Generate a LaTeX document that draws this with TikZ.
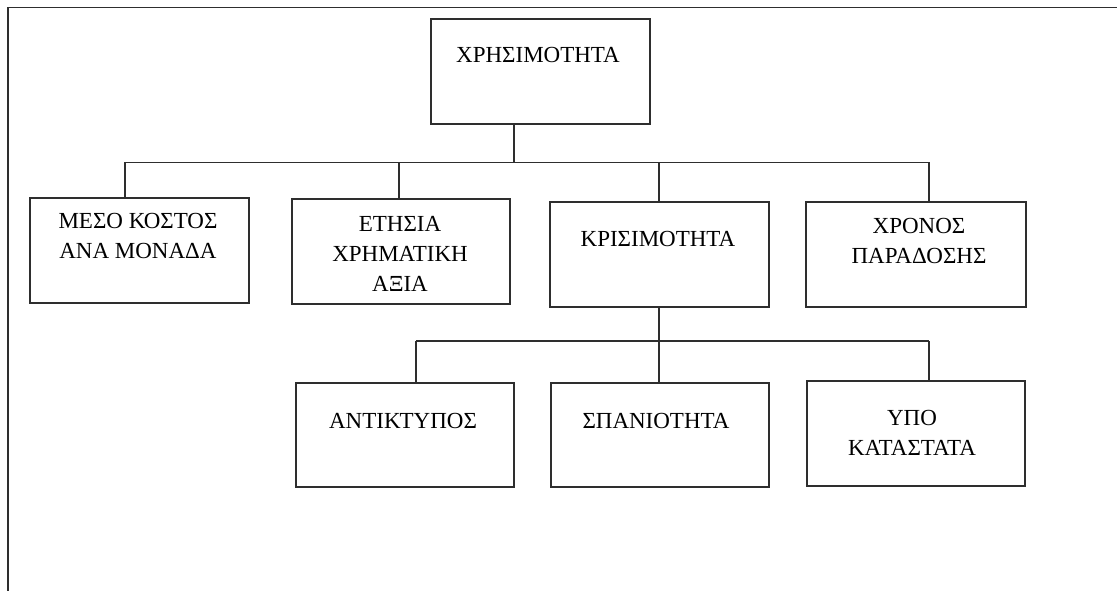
\documentclass[tikz,border=0pt]{standalone}
\usepackage{fontspec}
\setmainfont{Liberation Serif}
\definecolor{ln}{HTML}{2E2E2E}
\begin{document}
\begin{tikzpicture}[x=1pt,y=-1pt,
  box/.style={draw=ln,line width=1.2pt,minimum width=#1,inner sep=0pt},
  boxh/.style={minimum height=105pt},
  lbl/.style={align=center,inner sep=0pt,font=\fontsize{23}{30}\selectfont},
  conn/.style={draw=ln,line width=1.2pt},
  frame/.style={draw=ln,line width=1.8pt}]
\useasboundingbox (0,0) rectangle (1117,591);
% frame
\coordinate (fl) at (8,591);
\coordinate (fc) at (8,7.5);
\coordinate (fr) at (1117,7.5);
\draw[frame] (fl) -- (fc) -- (fr);
% boxes
\node[box=219pt,boxh] (top) at (540.5,71.5) {};
\node[box=219pt,boxh] (b1) at (139.5,250.5) {};
\node[box=218pt,boxh] (b2) at (401,251.5) {};
\node[box=219pt,boxh] (b3) at (659.5,254.5) {};
\node[box=220pt,boxh] (b4) at (916,254.5) {};
\node[box=218pt,minimum height=104pt] (b5) at (405,435) {};
\node[box=218pt,minimum height=104pt] (b6) at (660,435) {};
\node[box=218pt,minimum height=105pt] (b7) at (916,433.5) {};
% labels
\node[lbl] (t0) at (538,55) {ΧΡΗΣΙΜΟΤΗΤΑ};
\node[lbl] (t1) at (138,236) {ΜΕΣΟ ΚΟΣΤΟΣ\\ΑΝΑ ΜΟΝΑΔΑ};
\node[lbl] (t2) at (400,254) {ΕΤΗΣΙΑ\\ΧΡΗΜΑΤΙΚΗ\\ΑΞΙΑ};
\node[lbl] (t3) at (658,239) {ΚΡΙΣΙΜΟΤΗΤΑ};
\node[lbl] (t4) at (919,241) {ΧΡΟΝΟΣ\\ΠΑΡΑΔΟΣΗΣ};
\node[lbl] (t5) at (403,421) {ΑΝΤΙΚΤΥΠΟΣ};
\node[lbl] (t6) at (656,421) {ΣΠΑΝΙΟΤΗΤΑ};
\node[lbl] (t7) at (912,433) {ΥΠΟ\\ΚΑΤΑΣΤΑΤΑ};
% junctions
\coordinate (j0) at (514,162.5);
\coordinate (j1) at (125,162.5);
\coordinate (j2) at (399,162.5);
\coordinate (j3) at (659,162.5);
\coordinate (j4) at (929,162.5);
\coordinate (k0) at (659,341);
\coordinate (k1) at (416,341);
\coordinate (k3) at (929,341);
% connectors level 1
\draw[conn] (j0 |- top.south) -- (j0);
\draw[conn] (j1) -- (j4);
\draw[conn] (j1) -- (j1 |- b1.north);
\draw[conn] (j2) -- (j2 |- b2.north);
\draw[conn] (j3) -- (j3 |- b3.north);
\draw[conn] (j4) -- (j4 |- b4.north);
% connectors level 2
\draw[conn] (k0 |- b3.south) -- (k0 |- b6.north);
\draw[conn] (k1) -- (k3);
\draw[conn] (k1) -- (k1 |- b5.north);
\draw[conn] (k3) -- (k3 |- b7.north);
\end{tikzpicture}
\end{document}
